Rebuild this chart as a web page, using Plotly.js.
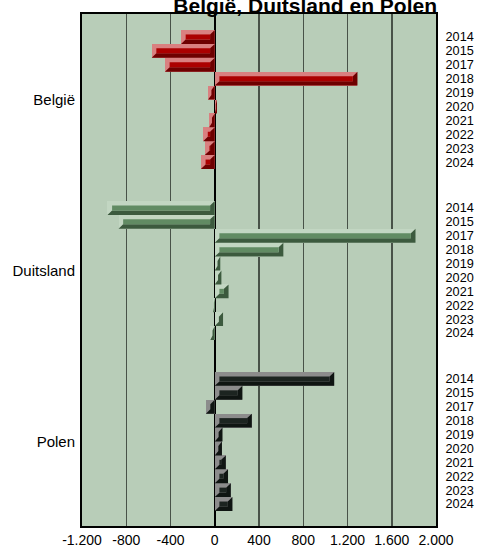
<!DOCTYPE html>
<html>
<head>
<meta charset="utf-8">
<script src="https://cdn.plot.ly/plotly-3.0.1.min.js"></script>
<style>html,body{margin:0;padding:0;background:#fff;}#chart{width:477px;height:547px;}</style>
</head>
<body>
<div id="chart"></div>
<script>
const years = ['2014','2015','2017','2018','2019','2020','2021','2022','2023','2024'];
const countries = ['België','Duitsland','Polen'];
const belgie = [-305, -570, -450, 1290, -60, 20, -50, -105, -90, -125];
const duitsland = [-970, -870, 1815, 620, 50, 60, 125, -15, 75, -40];
const polen = [1080, 250, -80, 335, 70, 65, 100, 120, 145, 160];
const xTickVals = [-1200, -800, -400, 0, 400, 800, 1200, 1600, 2000];
const xTickText = ['-1.200', '-800', '-400', '0', '400', '800', '1.200', '1.600', '2.000'];

const series = [belgie, duitsland, polen];
const palettes = [
  {light: '#d98080', mid: '#ab0000', dark: '#6e0000'},
  {light: '#c2d6c2', mid: '#618b63', dark: '#3c5a3e'},
  {light: '#8c8c8c', mid: '#1c2420', dark: '#0f1512'}
];

const GROUP = 12.3;   // group pitch in bar slots
const BX = 42;        // bevel in x data units
const BY = 0.32;      // bevel in slot units

const traces = [];
const shapes = [];
const yearPos = [], yearText = [], groupPos = [];
series.forEach((vals, g) => {
  const pos = vals.map((v, i) => g * GROUP + i);
  groupPos.push(g * GROUP + (vals.length - 1) / 2);
  pos.forEach((p, i) => { yearPos.push(p); yearText.push(years[i]); });
  const pal = palettes[g];
  traces.push({type: 'bar', orientation: 'h', name: countries[g], y: pos, x: vals,
    width: 1, offset: -0.5, marker: {color: pal.light, line: {width: 0}}, hoverinfo: 'x'});
  vals.forEach((v, i) => {
    const lo = Math.min(0, v), hi = Math.max(0, v);
    const bx = Math.min(BX, (hi - lo) / 2);
    const yt = pos[i] - 0.5, yb = pos[i] + 0.5;
    const iL = lo + bx, iR = hi - bx, iT = yt + BY, iB = yb - BY;
    shapes.push({type: 'path', xref: 'x', yref: 'y', layer: 'above', line: {width: 0}, fillcolor: pal.dark,
      path: `M${lo},${yb} L${hi},${yb} L${hi},${yt} L${iR},${iT} L${iR},${iB} L${iL},${iB} Z`});
    if (iR > iL) {
      shapes.push({type: 'rect', xref: 'x', yref: 'y', layer: 'above', line: {width: 0}, fillcolor: pal.mid,
        x0: iL, x1: iR, y0: iT, y1: iB});
    }
  });
});
traces.push({type: 'scatter', mode: 'markers', x: [0], y: [0], yaxis: 'y2',
  marker: {opacity: 0}, hoverinfo: 'skip', showlegend: false});

const yRange = [2 * GROUP + 9 + 1.58, -1.65];

const layout = {
  width: 477, height: 547,
  margin: {l: 82, r: 41, t: 14, b: 21, pad: 0},
  paper_bgcolor: '#ffffff',
  plot_bgcolor: '#b8cdb8',
  showlegend: false,
  barmode: 'overlay',
  bargap: 0,
  shapes: shapes,
  font: {family: 'Liberation Sans, Arial, sans-serif', color: '#000', size: 13},
  title: {text: '<b>België, Duitsland en Polen</b>', font: {size: 21, color: '#000'},
    xref: 'container', yref: 'container', x: 437 / 477, xanchor: 'right', y: 0.99, yanchor: 'middle'},
  xaxis: {range: [-1200, 2000], tickvals: xTickVals, ticktext: xTickText,
    tickfont: {size: 14}, showgrid: true, gridcolor: '#485248', gridwidth: 1.5,
    zeroline: true, zerolinecolor: '#000', zerolinewidth: 2,
    showline: true, mirror: true, linecolor: '#000', linewidth: 2, ticks: '', automargin: false, fixedrange: true},
  yaxis: {range: yRange, tickvals: groupPos, ticktext: countries, tickfont: {size: 15},
    showgrid: false, zeroline: false, showline: true, mirror: true, linecolor: '#000', linewidth: 2,
    ticks: 'outside', ticklen: 2, tickcolor: 'rgba(0,0,0,0)', automargin: false, fixedrange: true},
  yaxis2: {range: yRange, overlaying: 'y', side: 'right', tickvals: yearPos, ticktext: yearText,
    tickfont: {size: 12.7}, showgrid: false, zeroline: false, showline: false,
    ticks: 'outside', ticklen: 6, tickcolor: 'rgba(0,0,0,0)', automargin: false, fixedrange: true}
};

Plotly.newPlot('chart', traces, layout, {displayModeBar: false, staticPlot: true});
</script>
</body>
</html>
